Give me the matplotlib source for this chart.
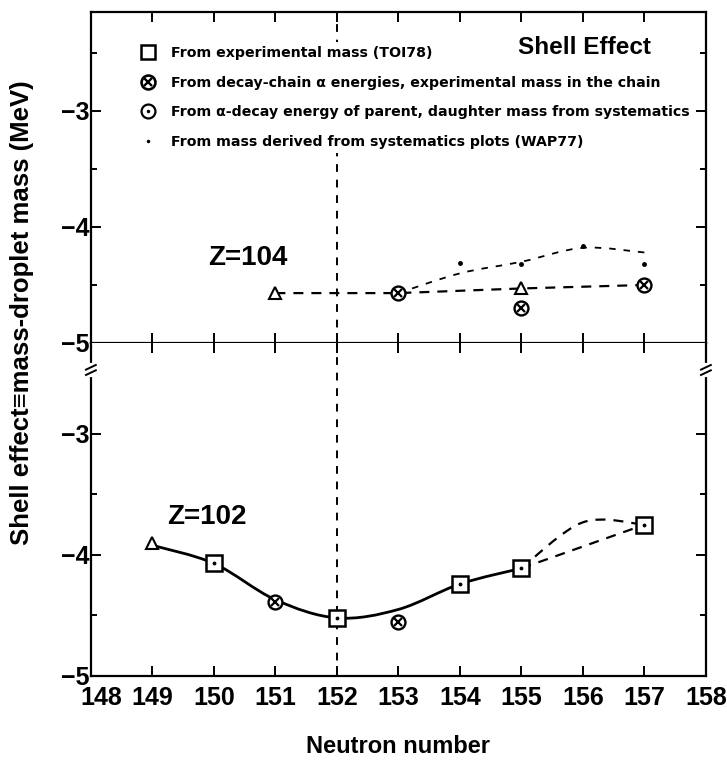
import numpy as np
import matplotlib
matplotlib.use('Agg')
import matplotlib.pyplot as plt
from matplotlib.path import Path
from matplotlib.patches import PathPatch
from matplotlib.lines import Line2D
from matplotlib.legend_handler import HandlerTuple
from matplotlib.ticker import FixedLocator
from matplotlib.transforms import ScaledTranslation

plt.rcParams['font.family'] = ['Liberation Sans', 'DejaVu Sans']
plt.rcParams['font.weight'] = 'bold'
plt.rcParams['axes.labelweight'] = 'bold'

neutrons = list(range(148, 159))

# Z = 104 (upper panel)
z104_tri_n = [151, 155]
z104_tri_e = [-4.57, -4.53]
z104_chain_n = [153, 155, 157]
z104_chain_e = [-4.57, -4.70, -4.50]
z104_wap_n = [154, 155, 156, 157]
z104_wap_e = [-4.31, -4.32, -4.16, -4.32]
z104_long_n = [151, 153, 155, 157]
z104_long_e = [-4.57, -4.57, -4.53, -4.50]
z104_short_n = [153, 154, 155, 156, 157]
z104_short_e = [-4.57, -4.40, -4.30, -4.18, -4.22]

# Z = 102 (lower panel)
z102_tri_n = [149]
z102_tri_e = [-3.90]
z102_exp_n = [150, 152, 154, 155, 157]
z102_exp_e = [-4.07, -4.52, -4.24, -4.11, -3.75]
z102_chain_n = [151, 153]
z102_chain_e = [-4.39, -4.55]
z102_fit_n = [149, 150, 151, 152, 153, 154, 155]
z102_fit_e = [-3.92, -4.07, -4.37, -4.52, -4.45, -4.24, -4.11]
z102_alt_n = [155, 156, 157]
z102_alt_e = [-4.11, -3.73, -3.75]
z102_dir_n = [155, 157]
z102_dir_e = [-4.11, -3.75]

legend_labels = ['From experimental mass (TOI78)',
                 'From decay-chain \u03b1 energies, experimental mass in the chain',
                 'From \u03b1-decay energy of parent, daughter mass from systematics',
                 'From mass derived from systematics plots (WAP77)']


def SmoothPath(xs, ys):
    # Catmull-Rom knots turned into cubic bezier segments
    p = np.column_stack([xs, ys]).astype(float)
    q = np.vstack([p[:1], p, p[-1:]])
    verts = [p[0]]
    codes = [Path.MOVETO]
    for i in range(len(p) - 1):
        c1 = q[i + 1] + (q[i + 2] - q[i]) / 6
        c2 = q[i + 2] - (q[i + 3] - q[i + 1]) / 6
        verts += [c1, c2, q[i + 2]]
        codes += [Path.CURVE4] * 3
    return Path(verts, codes)


def Curve(ax, xs, ys, lw, dashes=None):
    ls = '-' if dashes is None else (0, dashes)
    ax.add_patch(PathPatch(SmoothPath(xs, ys), fill=False, edgecolor='k',
                           lw=lw, linestyle=ls, zorder=2))


def Chain(ax, n, e, ms=10):
    ax.plot(n, e, 'o', mfc='white', mec='k', ms=ms, mew=1.7, ls='none', zorder=4)
    ax.plot(n, e, 'x', color='k', ms=ms * 0.55, mew=1.6, ls='none', zorder=5)


fig = plt.figure(figsize=(7.27, 7.73), dpi=100)
ax1 = fig.add_axes([0.125, 0.5563, 0.846, 0.4282])
ax2 = fig.add_axes([0.125, 0.1255, 0.846, 0.4308])

for ax in (ax1, ax2):
    ax.set_xlim(148, 158)
    ax.set_xticks(neutrons)
    ax.axvline(152, color='k', lw=1.4, dashes=(4, 4), zorder=1)
    for s in ax.spines.values():
        s.set_linewidth(1.6)
    ax.tick_params(axis='both', which='both', direction='in', top=True, right=True,
                   width=1.4, labelsize=18)
    ax.tick_params(axis='both', which='major', length=7)
    ax.tick_params(axis='y', which='minor', length=4)
    ax.tick_params(axis='y', pad=1)
    ax.set_yticks([-5, -4, -3])

ax1.set_ylim(-5, -2.147)
ax2.set_ylim(-5, -2.248)
ax1.yaxis.set_minor_locator(FixedLocator([-4.5, -3.5, -2.5]))
ax2.yaxis.set_minor_locator(FixedLocator([-4.5, -3.5]))
ax1.tick_params(axis='x', labelbottom=False)
ax2.tick_params(axis='x', pad=7)
ax2.spines['top'].set_visible(False)

# the first neutron label sits a little right of its tick, clear of the -5
first = ax2.xaxis.get_major_ticks()[0].label1
first.set_transform(first.get_transform() + ScaledTranslation(10 / 100, 0, fig.dpi_scale_trans))

# upper panel, Z = 104
ax1.plot(z104_long_n, z104_long_e, color='k', lw=1.6, dashes=(4.5, 3.6), zorder=2)
Curve(ax1, z104_short_n, z104_short_e, 1.3, (3.6, 4.4))
ax1.plot(z104_tri_n, z104_tri_e, '^', mfc='white', mec='k', ms=9, mew=1.5, ls='none', zorder=4)
Chain(ax1, z104_chain_n, z104_chain_e)
ax1.plot(z104_wap_n, z104_wap_e, '.', color='k', ms=5, ls='none', zorder=4)
ax1.text(150.55, -4.27, 'Z=104', fontsize=20, ha='center', va='center')
ax1.text(0.802, 0.893, 'Shell Effect', fontsize=17.5, ha='center', va='center',
         transform=ax1.transAxes, zorder=7)

# lower panel, Z = 102
Curve(ax2, z102_fit_n, z102_fit_e, 2.0)
Curve(ax2, z102_alt_n, z102_alt_e, 1.6, (4.5, 3.6))
ax2.plot(z102_dir_n, z102_dir_e, color='k', lw=1.6, dashes=(4.5, 3.6), zorder=2)
ax2.plot(z102_tri_n, z102_tri_e, '^', mfc='white', mec='k', ms=9, mew=1.5, ls='none', zorder=4)
ax2.plot(z102_exp_n, z102_exp_e, 's', mfc='white', mec='k', ms=11, mew=1.8, ls='none', zorder=4)
ax2.plot(z102_exp_n, z102_exp_e, '.', color='k', ms=3.5, ls='none', zorder=5)
Chain(ax2, z102_chain_n, z102_chain_e)
ax2.text(149.89, -3.69, 'Z=102', fontsize=20, ha='center', va='center')

# legend
h_sq = Line2D([], [], marker='s', mfc='white', mec='k', ms=10, mew=1.8, ls='none')
h_c1 = Line2D([], [], marker='o', mfc='white', mec='k', ms=10, mew=1.9, ls='none')
h_x1 = Line2D([], [], marker='x', color='k', ms=5.5, mew=1.7, ls='none')
h_c2 = Line2D([], [], marker='o', mfc='white', mec='k', ms=10, mew=1.6, ls='none')
h_d2 = Line2D([], [], marker='.', color='k', ms=3, ls='none')
h_dt = Line2D([], [], marker='.', color='k', ms=3, ls='none')
leg = ax1.legend([h_sq, (h_c1, h_x1), (h_c2, h_d2), h_dt], legend_labels,
                 handler_map={tuple: HandlerTuple(ndivide=1)},
                 loc='upper left', bbox_to_anchor=(0.075, 0.91),
                 prop={'family': 'DejaVu Sans', 'weight': 'bold', 'size': 10.2},
                 labelspacing=1.1, handlelength=1.0, handletextpad=1.1,
                 borderpad=0.3, borderaxespad=0, frameon=True, fancybox=False)
leg.get_frame().set_edgecolor('none')
leg.get_frame().set_facecolor('white')
leg.get_frame().set_alpha(1)

# axis break marks
yb = (676 - 370) / 333
for xa in (0, 1):
    ax2.plot([xa, xa], [yb - 0.014, yb + 0.014], color='white', lw=3,
             transform=ax2.transAxes, clip_on=False, zorder=6)
    for dy in (-0.008, 0.008):
        ax2.plot([xa - 0.008, xa + 0.008], [yb + dy - 0.007, yb + dy + 0.007], color='k',
                 lw=1.4, transform=ax2.transAxes, clip_on=False, zorder=7)

ax2.set_xlabel('Neutron number', fontsize=17, labelpad=18)
fig.text(0.030, 0.596, 'Shell effect\u2261mass-droplet mass (MeV)', rotation=90,
         fontsize=18.5, ha='center', va='center')

fig.savefig('out.png', dpi=100)
